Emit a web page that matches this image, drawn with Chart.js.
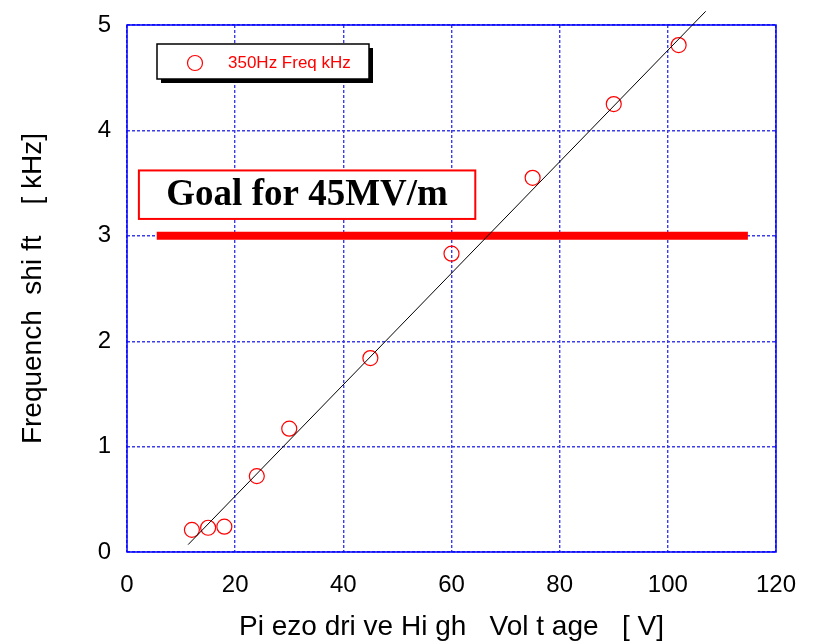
<!DOCTYPE html>
<html>
<head>
<meta charset="utf-8">
<script src="https://cdn.jsdelivr.net/npm/chart.js@4"></script>
<style>
    html, body { margin: 0; padding: 0; background: #ffffff; }
    #wrap { width: 815px; height: 644px; }
</style>
</head>
<body>
<div id="wrap"><canvas id="piezoChart" width="815" height="644"></canvas></div>
<script>
// Measured points: drive voltage [V] vs frequency shift [kHz].
var voltage = [12, 15, 18, 24, 30, 45, 60, 75, 90, 102];
var freqShift = [0.21, 0.23, 0.24, 0.72, 1.17, 1.84, 2.83, 3.55, 4.25, 4.81];

// Linear fit end points.
var fitVoltage = [11.3, 107];
var fitShift = [0.07, 5.13];

// Goal level (45 MV/m).
var goalVoltage = [5.5, 114.8];
var goalShift = [3, 3];

var xTicks = [0, 20, 40, 60, 80, 100, 120];
var yTicks = [0, 1, 2, 3, 4, 5];

var legendLabel = "350Hz Freq kHz";
var goalLabel = "Goal for 45MV/m";
var xTitle = "Pi ezo dri ve Hi gh   Vol t age   [ V]";
var yTitle = "Frequench  shi ft    [ kHz]";

function toPoints(xs, ys) {
    return xs.map(function (x, i) {
        return {x: x, y: ys[i]};
    });
}

/**
 * Draws the frame, the goal label box and the legend box.
 */
var decorPlugin = {
    id: "decor",
    beforeDatasetsDraw: function (chart) {
        var ctx = chart.ctx;
        var a = chart.chartArea;
        ctx.save();
        ctx.strokeStyle = "#0000ff";
        ctx.lineWidth = 1.5;
        ctx.strokeRect(a.left, a.top, a.right - a.left, a.bottom - a.top);
        ctx.restore();
    },
    afterDatasetsDraw: function (chart) {
        var ctx = chart.ctx;
        var xs = chart.scales.x;
        var ys = chart.scales.y;

        // Goal label box.
        var gx1 = xs.getPixelForValue(2.2);
        var gx2 = xs.getPixelForValue(64.4);
        var gy1 = ys.getPixelForValue(3.62);
        var gy2 = ys.getPixelForValue(3.16);
        ctx.save();
        ctx.fillStyle = "#ffffff";
        ctx.fillRect(gx1, gy1, gx2 - gx1, gy2 - gy1);
        ctx.strokeStyle = "#ff0000";
        ctx.lineWidth = 2;
        ctx.strokeRect(gx1, gy1, gx2 - gx1, gy2 - gy1);
        ctx.fillStyle = "#000000";
        ctx.font = "bold 37px 'Liberation Serif', 'Times New Roman', serif";
        ctx.textAlign = "center";
        ctx.textBaseline = "middle";
        ctx.fillText(goalLabel, (gx1 + gx2) / 2, (gy1 + gy2) / 2 + 1);
        ctx.restore();

        // Legend box with drop shadow.
        var lx = 157, ly = 44, lw = 212, lh = 35;
        ctx.save();
        ctx.fillStyle = "#000000";
        ctx.fillRect(lx + 4, ly + 4, lw, lh);
        ctx.fillStyle = "#ffffff";
        ctx.fillRect(lx, ly, lw, lh);
        ctx.strokeStyle = "#000000";
        ctx.lineWidth = 1.5;
        ctx.strokeRect(lx, ly, lw, lh);
        ctx.strokeStyle = "#ff0000";
        ctx.lineWidth = 1.2;
        ctx.beginPath();
        ctx.arc(lx + 38, ly + 19, 7.5, 0, Math.PI * 2);
        ctx.stroke();
        ctx.fillStyle = "#ff0000";
        ctx.font = "17px 'Liberation Sans', Arial, sans-serif";
        ctx.textAlign = "left";
        ctx.textBaseline = "middle";
        ctx.fillText(legendLabel, lx + 71, ly + 19);
        ctx.restore();
    }
};

document.addEventListener("DOMContentLoaded", function () {
    var ctx = document.getElementById("piezoChart").getContext("2d");
    var tickFont = {family: "'Liberation Sans', Arial, sans-serif", size: 24};
    var titleFont = {family: "'Liberation Sans', Arial, sans-serif", size: 28};
    var gridOpts = {
        color: "rgb(60,60,235)",
        lineWidth: 1.4,
        drawTicks: false
    };

    new Chart(ctx, {
        type: "scatter",
        data: {
            datasets: [
                {
                    label: "Goal",
                    data: toPoints(goalVoltage, goalShift),
                    showLine: true,
                    borderColor: "#ff0000",
                    borderWidth: 8,
                    pointRadius: 0,
                    borderCapStyle: "butt",
                    order: 3
                },
                {
                    label: legendLabel,
                    data: toPoints(voltage, freqShift),
                    showLine: false,
                    pointStyle: "circle",
                    pointRadius: 7.5,
                    pointBorderWidth: 1.2,
                    pointBorderColor: "#ff0000",
                    pointBackgroundColor: "rgba(0,0,0,0)",
                    order: 2
                },
                {
                    label: "Fit",
                    data: toPoints(fitVoltage, fitShift),
                    showLine: true,
                    borderColor: "#000000",
                    borderWidth: 1,
                    pointRadius: 0,
                    clip: false,
                    order: 1
                }
            ]
        },
        options: {
            responsive: false,
            animation: false,
            layout: {padding: {left: 0, right: 39, top: 25, bottom: 0}},
            plugins: {
                legend: {display: false},
                tooltip: {enabled: false}
            },
            scales: {
                x: {
                    type: "linear",
                    min: 0,
                    max: 120,
                    afterBuildTicks: function (scale) {
                        scale.ticks = xTicks.map(function (v) { return {value: v}; });
                    },
                    afterFit: function (scale) {
                        scale.height = 92;
                        scale.paddingLeft = 0;
                        scale.paddingRight = 0;
                    },
                    border: {display: false, dash: [3, 2]},
                    grid: gridOpts,
                    ticks: {color: "#000000", font: tickFont, padding: 19, maxRotation: 0},
                    title: {
                        display: true,
                        text: xTitle,
                        color: "#000000",
                        font: titleFont,
                        padding: {top: 0, bottom: 0}
                    }
                },
                y: {
                    type: "linear",
                    min: 0,
                    max: 5,
                    afterBuildTicks: function (scale) {
                        scale.ticks = yTicks.map(function (v) { return {value: v}; });
                    },
                    afterFit: function (scale) {
                        scale.width = 127;
                        scale.paddingTop = 0;
                        scale.paddingBottom = 0;
                    },
                    border: {display: false, dash: [3, 2]},
                    grid: gridOpts,
                    ticks: {color: "#000000", font: tickFont, padding: 16},
                    title: {
                        display: true,
                        text: yTitle,
                        color: "#000000",
                        font: titleFont,
                        padding: {top: 16, bottom: 0}
                    }
                }
            }
        },
        plugins: [decorPlugin]
    });
});
</script>
</body>
</html>
